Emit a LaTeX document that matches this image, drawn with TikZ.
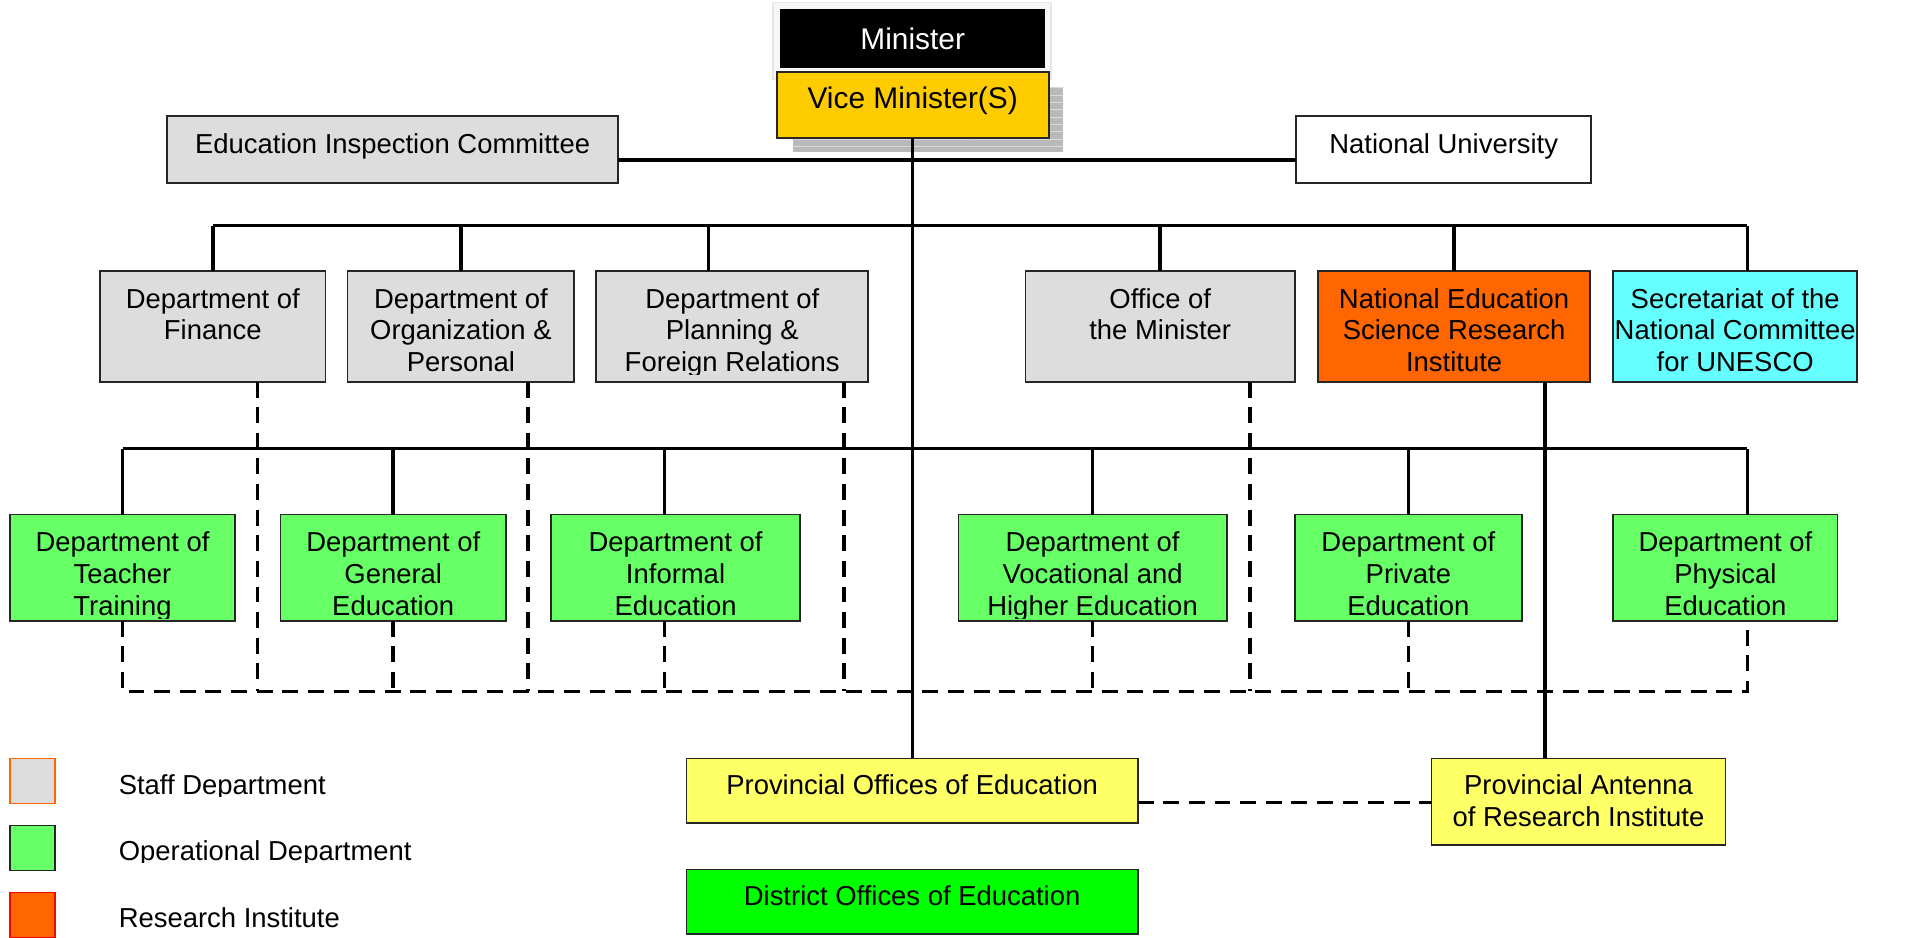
\documentclass[tikz,border=0pt]{standalone}
\usepackage{fontspec}
\setmainfont{Liberation Sans}
\usetikzlibrary{calc,patterns}
\definecolor{staffgray}{HTML}{DDDDDD}
\definecolor{opgreen}{HTML}{66FF66}
\definecolor{resorange}{HTML}{FF6600}
\definecolor{unescocyan}{HTML}{66FFFF}
\definecolor{viceyellow}{HTML}{FFCC00}
\definecolor{provyellow}{HTML}{FFFF66}
\definecolor{distgreen}{HTML}{00FF00}
\begin{document}
\begin{tikzpicture}[x=0.5pt,y=-0.5pt,
 wh/.style 2 args={minimum width=#1*0.5pt, minimum height=#2*0.5pt},
 box/.style={draw=black!85, line width=0.7pt, inner sep=0pt, outer sep=0pt},
 lbl/.style={inner sep=0pt, align=center, font=\fontsize{11.25}{13}\selectfont, anchor=north},
 conn/.style={line width=1.45pt},
 dconn/.style={line width=1.45pt, dash pattern=on 6.5pt off 4pt},
]
\path[use as bounding box] (0,0) rectangle (1568,769);

% ---- top
\node[inner sep=0pt, wh={228}{63}, fill=gray!6, draw=gray!20, line width=0.6pt] (minfr) at (748,33.5) {};
\node[inner sep=0pt, wh={217}{49}, fill=black, text=white, font=\fontsize{12.25}{14}\selectfont] (min) at (748.5,31.5) {Minister};
\node[inner sep=0pt, wh={222}{54}, preaction={fill=gray!55}, pattern=horizontal lines, pattern color=gray!30] (shadow) at (761,98) {};
\node[box, wh={223}{54}, fill=viceyellow] (vice) at (748.5,86) {};
\node[lbl, font=\fontsize{12.25}{14}\selectfont] (vicet) at ($(vice.north)+(0,12)$) {Vice Minister(S)};

\node[box, wh={370}{55}, fill=staffgray] (eic) at (322,122.5) {};
\node[lbl] (eict) at ($(eic.north)+(0,14)$) {Education Inspection Committee};
\node[box, wh={242}{55}, fill=white] (nu) at (1184,122.5) {};
\node[lbl] (nut) at ($(nu.north)+(0,14)$) {National University};

% ---- level 2
\node[box, wh={185}{91}, fill=staffgray] (fin) at (174.5,267.5) {};
\node[box, wh={186}{91}, fill=staffgray] (org) at (378,267.5) {};
\node[box, wh={223}{91}, fill=staffgray] (plan) at (600.5,267.5) {};
\node[box, wh={221}{91}, fill=staffgray] (off) at (951.5,267.5) {};
\node[box, wh={223}{91}, fill=resorange] (nesri) at (1192.5,267.5) {};
\node[box, wh={200}{91}, fill=unescocyan] (unesco) at (1423,267.5) {};
\foreach \n/\t in {fin/{Department of\\Finance},
                   org/{Department of\\Organization \&\\Personal},
                   plan/{Department of\\Planning \&\\Foreign Relations},
                   off/{Office of\\the Minister},
                   nesri/{National Education\\Science Research\\Institute},
                   unesco/{Secretariat of the\\National Committee\\for UNESCO}}{
  \begin{scope}
    \clip (\n.north west) rectangle ($(\n.south east)+(0,-6)$);
    \node[lbl] (\n t) at ($(\n.north)+(0,14)$) {\t};
  \end{scope}
}

% ---- level 3
\node[box, wh={185}{87}, fill=opgreen] (tt) at (100.5,465.5) {};
\node[box, wh={185}{87}, fill=opgreen] (ge) at (322.5,465.5) {};
\node[box, wh={204}{87}, fill=opgreen] (ie) at (554,465.5) {};
\node[box, wh={220}{87}, fill=opgreen] (vhe) at (896,465.5) {};
\node[box, wh={186}{87}, fill=opgreen] (pe) at (1155,465.5) {};
\node[box, wh={184}{87}, fill=opgreen] (phe) at (1415,465.5) {};
\foreach \n/\t in {tt/{Department of\\Teacher\\Training},
                   ge/{Department of\\General\\Education},
                   ie/{Department of\\Informal\\Education},
                   vhe/{Department of\\Vocational and\\Higher Education},
                   pe/{Department of\\Private\\Education},
                   phe/{Department of\\Physical\\Education}}{
  \begin{scope}
    \clip (\n.north west) rectangle ($(\n.south east)+(0,-2)$);
    \node[lbl] (\n t) at ($(\n.north)+(0,14)$) {\t};
  \end{scope}
}

% ---- bottom
\node[box, wh={370}{53}, fill=provyellow] (poe) at (748,648.5) {};
\node[lbl] (poet) at ($(poe.north)+(0,13)$) {Provincial Offices of Education};
\node[box, wh={241}{71}, fill=provyellow] (pa) at (1294.5,657.5) {};
\node[lbl] (pat) at ($(pa.north)+(0,13)$) {Provincial Antenna\\of Research Institute};
\node[box, wh={370}{53}, fill=distgreen] (doe) at (748,739.5) {};
\node[lbl] (doet) at ($(doe.north)+(0,13)$) {District Offices of Education};

% ---- legend
\node[box, wh={37}{37}, fill=staffgray, draw=resorange] (lg1) at (26.5,640.5) {};
\node[box, wh={37}{37}, fill=opgreen] (lg2) at (26.5,695.5) {};
\node[box, wh={37}{37}, fill=resorange, draw=red] (lg3) at (26.5,750.5) {};
\begin{scope}
  \clip (60,620) rectangle (500,653);
  \node[lbl, anchor=north west] (lt1) at (97,635) {Staff Department};
\end{scope}
\begin{scope}
  \clip (60,675) rectangle (500,707);
  \node[lbl, anchor=north west] (lt2) at (97,689) {Operational Department};
\end{scope}
\node[lbl, anchor=north west] (lt3) at (97,744) {Research Institute};

% ---- connectors
\coordinate (b1) at ($(eic.east)+(0,8.5)$);
\draw[conn] (b1) -- (b1 -| nu.west);
\draw[conn] (vice.south) -- (vice.south |- poe.north);

\coordinate (bus2) at (748,185);
\coordinate (plc) at ($(plan.north)+(-19.5,0)$);
\coordinate (unc) at ($(unesco.north)+(10,0)$);
\draw[conn] (fin.north |- bus2) -- (unc |- bus2);
\foreach \n in {fin,org,off,nesri}{\draw[conn] (\n.north) -- (\n.north |- bus2);}
\draw[conn] (plc) -- (plc |- bus2);
\draw[conn] (unc) -- (unc |- bus2);

\coordinate (bus3) at (748,368);
\coordinate (iec) at ($(ie.north)+(-9,0)$);
\coordinate (phc) at ($(phe.north)+(18,0)$);
\draw[conn] (tt.north |- bus3) -- (phc |- bus3);
\foreach \n in {tt,ge,vhe,pe}{\draw[conn] (\n.north) -- (\n.north |- bus3);}
\draw[conn] (iec) -- (iec |- bus3);
\draw[conn] (phc) -- (phc |- bus3);

\coordinate (bus4) at (748,567);
\coordinate (ies) at ($(ie.south)+(-9,0)$);
\coordinate (phs) at ($(phe.south)+(18,0)$);
\draw[dconn] (tt.south) -- (tt.south |- bus4) -- (phs |- bus4) -- (phs);
\foreach \n in {ge,vhe,pe}{\draw[dconn] (\n.south) -- (\n.south |- bus4);}
\draw[dconn] (ies) -- (ies |- bus4);
\coordinate (fs) at ($(fin.south)+(36.5,0)$);
\coordinate (os) at ($(org.south)+(55,0)$);
\coordinate (ps) at ($(plan.south)+(91.5,0)$);
\coordinate (ms) at ($(off.south)+(73.5,0)$);
\foreach \c in {fs,os,ps,ms}{\draw[dconn] (\c) -- (\c |- bus4);}

\coordinate (nsc) at ($(nesri.south)+(74.5,0)$);
\draw[conn] (nsc) -- (nsc |- pa.north);

\coordinate (pd) at ($(poe.east)+(0,9.5)$);
\draw[dconn] (pd) -- (pd -| pa.west);
\end{tikzpicture}
\end{document}
